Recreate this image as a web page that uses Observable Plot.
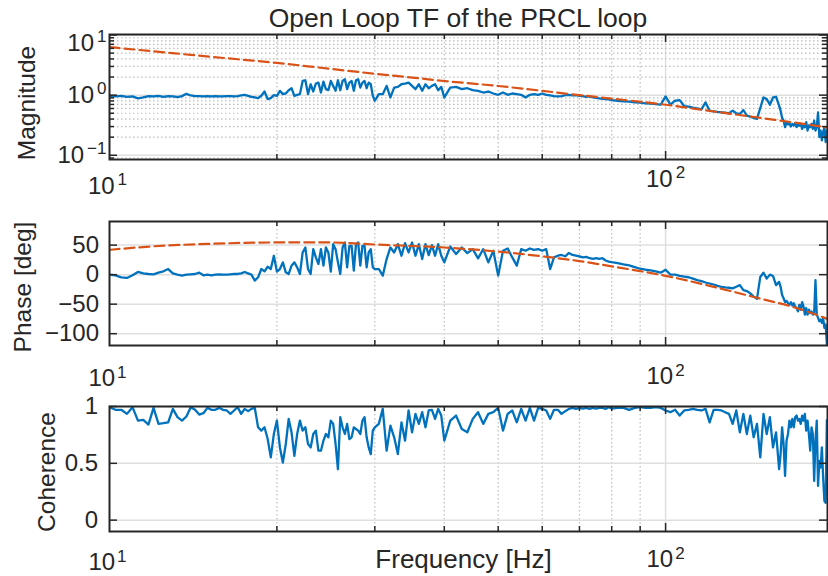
<!DOCTYPE html>
<html><head><meta charset="utf-8">
<script src="https://cdn.jsdelivr.net/npm/d3@7"></script>
<script src="https://cdn.jsdelivr.net/npm/@observablehq/plot@0.6"></script>
<style>
body{margin:0;background:#fff}
#wrap{position:relative;width:828px;height:576px;overflow:hidden;background:#fff}
#wrap svg{position:absolute;left:0}
</style></head><body><div id="wrap"></div>
<script>
// ---------- data ----------
const freq = [
10,10.25,10.5,10.75,11,11.25,11.5,11.75,12,12.25,12.5,12.75,13,13.25,13.5,13.75,14,14.25,14.5,14.75,15,15.25,15.5,15.75,16,16.25,16.5,16.75,17,17.25,17.5,17.75,18,18.25,18.5,18.75,19,19.25,19.5,19.75,
20,20.25,20.5,20.75,21,21.25,21.5,21.75,22,22.25,22.5,22.75,23,23.25,23.5,23.75,24,24.25,24.5,24.75,25,25.25,25.5,25.75,26,26.25,26.5,26.75,27,27.25,27.5,27.75,28,28.25,28.5,28.75,29,29.25,29.5,29.75,
30,30.5,31,31.5,32,32.5,33,33.5,34,34.5,35,35.5,36,36.5,37,37.5,38,38.5,39,39.5,
40,41,42,43,44,45,46,47,48,49,50,51,52,53,54,55,56,57,58,59,60,61,62,63,64,
65,66,67,68,69,70,71,72,73,74,75,76,77,78,79,80,
82,84,86,88,90,92,94,96,98,100,102,104,106,108,110,112,114,116,118,120,122,124,126,128,130,132,134,136,138,140,142,144,146,148,150,152,154,156,158,160,
161,162,163,164,165,166,167,168,169,170,171,172,173,174,175,176,177,178,179,180,181,182,183,184,185,186,187,188,189,190,191,192,193,194,195
];
const magnitude = [
0.975,0.951,0.975,0.939,0.951,0.881,0.915,0.963,0.951,0.975,0.939,0.963,0.951,0.927,0.963,1.052,0.987,0.963,0.963,0.951,0.963,0.951,0.963,0.951,0.951,0.963,0.963,0.951,0.963,0.987,1.013,0.975,0.939,0.915,0.893,0.975,1.149,0.859,0.893,1.0,
0.975,1.179,1.039,1.065,1.209,1.304,0.975,1.013,1.039,1.72,1.767,1.039,1.518,1.149,1.556,1.617,1.106,1.68,1.256,1.209,1.72,1.425,1.179,1.767,1.209,1.72,1.835,1.256,1.617,1.72,1.179,1.767,1.835,1.338,1.617,1.72,1.304,1.617,1.518,0.975,
0.807,1.039,1.039,1.425,0.915,1.338,1.372,1.518,1.556,1.617,1.425,1.256,1.518,1.179,1.518,1.304,1.425,1.518,1.209,1.372,
0.915,1.338,1.372,1.256,1.304,1.209,1.179,1.106,1.149,1.065,1.013,1.106,1.013,1.065,1.039,1.013,0.915,1.013,1.039,1.013,1.065,1.013,0.987,0.963,0.951,
0.963,1.0,1.013,0.987,1.0,0.975,0.963,0.939,0.951,0.915,0.904,0.881,0.87,0.859,0.848,0.827,
0.807,0.786,0.777,0.757,0.748,0.729,0.72,0.711,0.693,0.951,0.693,0.807,0.827,0.659,0.642,0.618,0.603,0.581,0.757,0.552,0.538,0.525,0.518,0.512,0.499,0.552,0.499,0.486,0.566,0.457,0.44,0.418,0.402,0.611,0.915,0.859,0.693,0.915,0.939,0.667,
0.552,0.418,0.378,0.293,0.355,0.325,0.341,0.301,0.333,0.313,0.341,0.293,0.325,0.309,0.333,0.275,0.313,0.293,0.355,0.258,0.313,0.293,0.333,0.275,0.378,0.258,0.293,0.518,0.201,0.258,0.177,0.243,0.293,0.166,0.258
];
const phase = [
0,-1.1,-4.5,-5.6,-1.1,4.5,2.2,1.1,0.6,3.4,5.6,9.5,2.2,0,-1.7,0,0.6,1.1,3.4,-1.1,0,-1.1,0,0.6,0,0,0.6,1.1,1.1,2.2,4.5,2.2,0,-10.1,-4.5,9.5,5.6,13.5,9.5,32,
5.1,9.5,20.8,3.9,1.1,15.2,20.8,12.3,1.1,37.6,46,9.5,1.1,43.2,29.2,18,43.2,15.2,46,37.6,5.1,51.6,43.2,20.8,1.1,46,54.4,12.3,48.8,48.8,6.7,51.6,54.4,15.2,48.8,48.8,12.3,37.6,43.2,12.3,
9.5,9.5,-1.7,26.4,46,37.6,51.6,32,53.3,37.6,54.4,32,51.6,26.4,51.6,33.1,49.9,32,51.6,32,
20.8,47.7,34.8,46,36.5,43.2,27.5,43.2,20.8,40.4,-1.7,40.4,44.3,29.2,15.2,43.2,40.4,44.3,42.1,43.2,40.4,43.2,9.5,29.2,32,
33.3,31.1,36.7,33.3,32.2,31.1,29.4,30,27.8,26.7,27.8,26.7,27.8,23.9,22.2,21.1,
19.4,17.2,15.6,12.8,10,8.3,7.2,5.6,3.3,8.3,0,0,-2.2,-3.3,-4.4,-6.7,-9.4,-11.1,-13.3,-15,-16.7,-18.9,-20.6,-21.7,-22.2,-23.3,-20.6,-17.8,-26.1,-27.8,-31.7,-37.2,-41.1,-3.9,3.3,-6.7,0,-2.2,-17.8,-12.2,
-20.6,-34.4,-40,-46.7,-44.4,-48.3,-51.1,-46.7,-52.2,-48.3,-53.9,-56.7,-62.2,-51.1,-59.4,-46.7,-53.9,-67.8,-56.7,-67.8,-59.4,-65,-62.2,-67.8,-65,-9.4,-67.8,-73.3,-78.9,-76.1,-81.7,-73.3,-90,-84.4,-118
];
const coherence = [
0.994,0.971,0.971,0.935,0.994,0.876,0.882,0.841,0.988,0.847,0.853,0.861,0.979,0.906,0.876,0.912,0.994,0.971,0.929,0.941,0.988,0.971,0.971,0.988,0.971,0.965,0.935,0.965,0.994,0.935,0.979,0.959,0.979,0.988,0.817,0.788,0.817,0.714,0.552,0.758,
0.876,0.64,0.507,0.67,0.891,0.773,0.566,0.758,0.876,0.788,0.817,0.67,0.64,0.758,0.788,0.611,0.611,0.699,0.758,0.729,0.876,0.847,0.67,0.448,0.906,0.817,0.758,0.847,0.714,0.729,0.817,0.802,0.788,0.758,0.876,0.906,0.729,0.64,0.581,0.788,
0.817,0.847,0.979,0.611,0.832,0.729,0.581,0.861,0.699,0.965,0.773,0.935,0.847,0.95,0.817,0.965,0.971,0.891,0.979,0.92,
0.699,0.876,0.92,0.802,0.773,0.891,0.95,0.847,0.935,0.95,0.988,0.788,0.935,0.965,0.861,0.979,0.876,0.988,0.876,0.988,0.979,0.965,0.891,0.971,0.971,
0.935,0.959,0.979,0.988,0.979,0.988,0.982,0.988,0.979,0.988,0.982,0.988,0.988,0.979,0.994,0.982,
0.988,0.988,0.971,0.988,0.994,0.988,0.988,0.994,0.988,0.965,0.95,0.971,0.92,0.965,0.971,0.979,0.971,0.965,0.979,0.861,0.971,0.971,0.965,0.95,0.935,0.847,0.965,0.773,0.935,0.758,0.92,0.729,0.847,0.552,0.935,0.758,0.906,0.64,0.773,0.448,
0.581,0.817,0.67,0.389,0.699,0.758,0.876,0.817,0.891,0.817,0.906,0.92,0.876,0.891,0.847,0.92,0.876,0.935,0.788,0.876,0.758,0.611,0.817,0.758,0.345,0.699,0.876,0.301,0.522,0.463,0.64,0.375,0.168,0.153,0.88
];
// model (dashed) curves
const modelMagFreq = [10,12,14,17,20,25,30,35,40,50,60,70,80,100,120,150,175,195.5];
const modelMag     = [6.3,5.35,4.68,3.95,3.44,2.73,2.27,1.96,1.72,1.42,1.18,1.0,0.876,0.692,0.547,0.412,0.338,0.29];
const modelPhFreq  = [10,12,15,20,25,30,40,50,60,70,80,90,100,120,150,170,195.5];
const modelPh      = [42,48,52,54.5,54.5,51,46,39,31,23,14,6,-2,-19,-42,-55,-75];
// axes ticks / labels
const xTickValues = [10,100];
const xMinorValues = [20,30,40,50,60,70,80,90];
const magTicks = [0.1,1,10];
const magMinor = [0.09,0.2,0.3,0.4,0.5,0.6,0.7,0.8,0.9,2,3,4,5,6,7,8,9];
const phaseTicks = [-100,-50,0,50];
const cohTicks = [0,0.5,1];
const titleText = "Open Loop TF of the PRCL loop";
const yLabels = ["Magnitude","Phase [deg]","Coherence"];
const xLabelText = "Frequency [Hz]";

// ---------- styling ----------
const FONT = "'Liberation Sans', Arial, Helvetica, sans-serif";
const INK = "#262626", GRID = "#dfdfdf", MINOR = "#bdbdbd";
const BLUE = "#0072BD", RED = "#D95319";
const W = 828, ML = 109, MR = 1, PW = W - ML - MR;
const MID = {textAnchor: "middle", lineAnchor: "middle"};

const rows = freq.map((f, i) => ({f, mag: magnitude[i], ph: phase[i], coh: coherence[i]}));
const magModel = modelMagFreq.map((f, i) => ({f, v: modelMag[i]}));
const phModel = modelPhFreq.map((f, i) => ({f, v: modelPh[i]}));
const minus = s => String(s).replace("-", "\u2212");
const expLabel = d => "10^" + minus(Math.round(Math.log10(d)));

function xGrid() {
  return [
    Plot.ruleX(xMinorValues, {stroke: MINOR, strokeWidth: 1.2, strokeDasharray: "1.5,2.5"}),
    Plot.ruleX([100], {stroke: GRID, strokeWidth: 1.5})
  ];
}
function xTicks(ph) {
  const o = {stroke: INK, strokeWidth: 1.5};
  return [
    Plot.tickX(xMinorValues, {...o, insetTop: ph - 5}),
    Plot.tickX(xMinorValues, {...o, insetBottom: ph - 5}),
    Plot.tickX([100], {...o, insetTop: ph - 8}),
    Plot.tickX([100], {...o, insetBottom: ph - 8})
  ];
}
function yTicks(vals, len) {
  const o = {stroke: INK, strokeWidth: 1.5};
  return [
    Plot.tickY(vals, {...o, insetRight: PW - len}),
    Plot.tickY(vals, {...o, insetLeft: PW - len})
  ];
}
function xTickLabels(dy1, dy2) {
  return [
    Plot.text(xTickValues.filter(d => d === 10), {...MID, x: d => d, text: expLabel, frameAnchor: "bottom", dy: dy1, dx: -2, fontSize: 24, fill: INK}),
    Plot.text(xTickValues.filter(d => d === 100), {...MID, x: d => d, text: expLabel, frameAnchor: "bottom", dy: dy2, fontSize: 24, fill: INK})
  ];
}
function yLabel(t, dx, dy) {
  return Plot.text([t], {...MID, frameAnchor: "left", rotate: -90, dx, dy, fontSize: 24.5, fill: INK});
}
function supers(svg, gap) {
  d3.select(svg).selectAll("text").each(function () {
    const t = this.textContent;
    if (!t.includes("^")) return;
    const [b, e] = t.split("^");
    const s = d3.select(this);
    s.text(null);
    s.append("tspan").text(b);
    s.append("tspan").attr("dx", gap).attr("dy", -8.5).attr("font-size", 17).text(e);
  });
}
const baseStyle = {fontFamily: FONT, background: "transparent", overflow: "visible", color: INK};
const wrap = document.getElementById("wrap");
function place(svg, top, gap) {
  supers(svg, gap);
  svg.style.top = top + "px";
  wrap.appendChild(svg);
}
const yTickText = {lineAnchor: "middle", textAnchor: "end", frameAnchor: "left", fontSize: 24, fill: INK};

// ---------- panel 1: magnitude ----------
{
  const H = 192, MT = 34, MB = 33, PH = H - MT - MB;
  const svg = Plot.plot({
    width: W, height: H, marginLeft: ML, marginRight: MR, marginTop: MT, marginBottom: MB,
    style: baseStyle,
    x: {type: "log", domain: [10, 195.5], axis: null},
    y: {type: "log", domain: [0.085, 10.2], axis: null},
    marks: [
      ...xGrid(),
      Plot.ruleY(magMinor, {stroke: MINOR, strokeWidth: 1.2, strokeDasharray: "1.5,2.5"}),
      Plot.ruleY(magTicks, {stroke: GRID, strokeWidth: 1.5}),
      Plot.line(rows, {x: "f", y: "mag", stroke: BLUE, strokeWidth: 2.3, strokeLinejoin: "round", clip: true}),
      Plot.line(magModel, {x: "f", y: "v", stroke: RED, strokeWidth: 2.2, strokeDasharray: "10,5", curve: "monotone-x", clip: true}),
      Plot.frame({stroke: INK, strokeWidth: 2}),
      ...xTicks(PH),
      ...yTicks(magMinor, 5),
      ...yTicks(magTicks, 8),
      Plot.text(magTicks.filter(d => d !== 10), {...yTickText, y: d => d, text: expLabel, dx: -3}),
      Plot.text(magTicks.filter(d => d === 10), {...yTickText, y: d => d, text: expLabel, dx: -3, dy: 8}),
      ...xTickLabels(26.5, 19.5),
      yLabel(yLabels[0], -82, 6),
      Plot.text([titleText], {...MID, frameAnchor: "top", dx: -10.5, dy: -15.5, fontSize: 26.5, fill: INK})
    ]
  });
  place(svg, 0, 3);
}

// ---------- panel 2: phase ----------
{
  const H = 186, MT = 29, MB = 33, PH = H - MT - MB;
  const svg = Plot.plot({
    width: W, height: H, marginLeft: ML, marginRight: MR, marginTop: MT, marginBottom: MB,
    style: baseStyle,
    x: {type: "log", domain: [10, 195.5], axis: null},
    y: {type: "linear", domain: [-120, 90], axis: null},
    marks: [
      ...xGrid(),
      Plot.ruleY(phaseTicks, {stroke: GRID, strokeWidth: 1.5}),
      Plot.line(rows, {x: "f", y: "ph", stroke: BLUE, strokeWidth: 2.3, strokeLinejoin: "round", clip: true}),
      Plot.line(phModel, {x: "f", y: "v", stroke: RED, strokeWidth: 2.2, strokeDasharray: "10,5", curve: "monotone-x", clip: true}),
      Plot.frame({stroke: INK, strokeWidth: 2}),
      ...xTicks(PH),
      ...yTicks(phaseTicks, 8),
      Plot.text(phaseTicks, {...yTickText, y: d => d, text: d => minus(d), dx: -10.5}),
      ...xTickLabels(33, 31),
      yLabel(yLabels[1], -86, 3.5)
    ]
  });
  place(svg, 192, 2);
}

// ---------- panel 3: coherence ----------
{
  const H = 198, MT = 28, MB = 45, PH = H - MT - MB;
  const svg = Plot.plot({
    width: W, height: H, marginLeft: ML, marginRight: MR, marginTop: MT, marginBottom: MB,
    style: baseStyle,
    x: {type: "log", domain: [10, 195.5], axis: null},
    y: {type: "linear", domain: [-0.1, 1], axis: null},
    marks: [
      ...xGrid(),
      Plot.ruleY(cohTicks, {stroke: GRID, strokeWidth: 1.5}),
      Plot.line(rows, {x: "f", y: "coh", stroke: BLUE, strokeWidth: 2.3, strokeLinejoin: "round", clip: true}),
      Plot.frame({stroke: INK, strokeWidth: 2}),
      ...xTicks(PH),
      ...yTicks(cohTicks, 8),
      Plot.text(cohTicks, {...yTickText, y: d => d, text: d => String(d), dx: -11.5}),
      ...xTickLabels(31, 28),
      yLabel(yLabels[2], -62, 3),
      Plot.text([xLabelText], {...MID, frameAnchor: "bottom", dx: -5, dy: 28, fontSize: 26, fill: INK})
    ]
  });
  place(svg, 378, 2);
}
</script>
</body></html>
